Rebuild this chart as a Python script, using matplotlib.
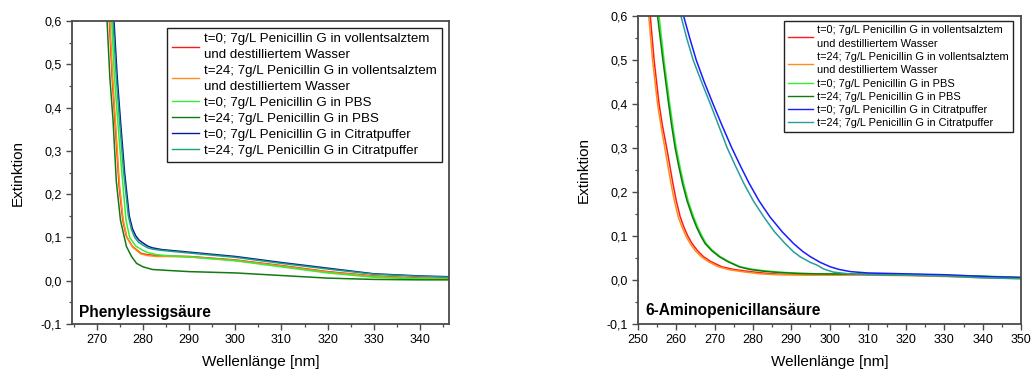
import matplotlib
matplotlib.use("Agg")
import matplotlib.pyplot as plt
from matplotlib.ticker import MultipleLocator, FuncFormatter

plt.rcParams['font.family'] = ['Liberation Sans', 'DejaVu Sans']

labels = [
    "t=0; 7g/L Penicillin G in vollentsalztem\nund destilliertem Wasser",
    "t=24; 7g/L Penicillin G in vollentsalztem\nund destilliertem Wasser",
    "t=0; 7g/L Penicillin G in PBS",
    "t=24; 7g/L Penicillin G in PBS",
    "t=0; 7g/L Penicillin G in Citratpuffer",
    "t=24; 7g/L Penicillin G in Citratpuffer",
]

# ---- Phenylessigsäure (left panel) ----
pa_wl_t0_water = [272.3, 272.7, 273.3, 273.9, 274.8, 275.6, 276.4, 277.7, 279.6, 281, 283, 285, 290, 300, 310, 320, 330, 340, 347]
pa_ex_t0_water = [0.7, 0.6, 0.47, 0.37, 0.22, 0.14, 0.102, 0.079, 0.063, 0.06, 0.058, 0.057, 0.056, 0.048, 0.035, 0.021, 0.011, 0.006, 0.005]
pa_wl_t24_water = [272.4, 272.8, 273.4, 274.0, 274.9, 275.7, 276.5, 277.8, 279.5, 281, 283, 285, 290, 300, 310, 320, 330, 340, 347]
pa_ex_t24_water = [0.7, 0.6, 0.47, 0.37, 0.22, 0.14, 0.1, 0.077, 0.062, 0.058, 0.056, 0.056, 0.055, 0.047, 0.034, 0.02, 0.01, 0.005, 0.004]
pa_wl_t0_pbs = [272.8, 273.2, 273.8, 274.5, 275.4, 276.3, 277.1, 278.4, 280, 281, 283, 285, 290, 300, 310, 320, 330, 340, 347]
pa_ex_t0_pbs = [0.7, 0.6, 0.47, 0.37, 0.25, 0.14, 0.1, 0.08, 0.07, 0.065, 0.06, 0.058, 0.055, 0.046, 0.032, 0.018, 0.008, 0.004, 0.003]
pa_wl_t24_pbs = [271.8, 272.2, 272.8, 273.5, 274.2, 275.1, 276.4, 277.5, 278.6, 280, 282, 285, 290, 300, 310, 320, 330, 340, 347]
pa_ex_t24_pbs = [0.7, 0.6, 0.47, 0.37, 0.23, 0.14, 0.079, 0.056, 0.04, 0.032, 0.026, 0.024, 0.021, 0.018, 0.012, 0.006, 0.003, 0.002, 0.002]
pa_wl_t0_cit = [273.3, 273.7, 274.4, 275.1, 276.0, 277.0, 277.7, 278.4, 279.1, 280, 281, 282, 284, 290, 300, 310, 320, 330, 340, 347]
pa_ex_t0_cit = [0.7, 0.6, 0.47, 0.37, 0.25, 0.15, 0.12, 0.104, 0.094, 0.087, 0.08, 0.076, 0.072, 0.066, 0.056, 0.042, 0.029, 0.016, 0.011, 0.009]
pa_wl_t24_cit = [273.1, 273.5, 274.2, 274.9, 275.8, 276.8, 277.5, 278.2, 279, 280, 281, 282, 284, 290, 300, 310, 320, 330, 340, 347]
pa_ex_t24_cit = [0.7, 0.6, 0.47, 0.37, 0.25, 0.15, 0.118, 0.1, 0.089, 0.082, 0.076, 0.073, 0.07, 0.064, 0.054, 0.04, 0.027, 0.015, 0.01, 0.008]

# ---- 6-Aminopenicillansäure (right panel) ----
apa_wl_t0_water = [252.7, 253.2, 254.2, 255.5, 256.4, 257.5, 258.3, 259.1, 260.0, 261.0, 262.0, 263.0, 264.1, 265.5, 267.1, 269.0, 271.9, 275.0, 279.3, 283.5, 287.1, 295, 310, 320, 330, 340, 350]
apa_ex_t0_water = [0.65, 0.6, 0.5, 0.4, 0.35, 0.3, 0.26, 0.22, 0.18, 0.144, 0.12, 0.1, 0.083, 0.067, 0.053, 0.042, 0.03, 0.024, 0.019, 0.015, 0.013, 0.012, 0.012, 0.011, 0.009, 0.006, 0.004]
apa_wl_t24_water = [252.3, 252.8, 253.8, 255.1, 256.0, 257.0, 257.8, 258.6, 259.5, 260.5, 261.5, 262.5, 263.6, 264.9, 266.5, 268.3, 271.0, 274.0, 278.0, 282.0, 286.0, 295, 310, 320, 330, 340, 350]
apa_ex_t24_water = [0.65, 0.6, 0.5, 0.4, 0.35, 0.3, 0.26, 0.22, 0.18, 0.144, 0.12, 0.1, 0.083, 0.067, 0.053, 0.042, 0.03, 0.023, 0.018, 0.014, 0.012, 0.011, 0.011, 0.01, 0.008, 0.005, 0.003]
apa_wl_t0_pbs = [255.0, 255.5, 256.8, 258.3, 259.1, 260.0, 260.9, 261.9, 263.1, 264.5, 265.6, 266.7, 267.8, 269.5, 271.5, 273.7, 276.7, 279.5, 283, 287, 292, 297, 310, 320, 330, 340, 350]
apa_ex_t0_pbs = [0.65, 0.6, 0.5, 0.4, 0.35, 0.3, 0.26, 0.22, 0.18, 0.144, 0.12, 0.1, 0.083, 0.067, 0.053, 0.042, 0.03, 0.025, 0.021, 0.018, 0.015, 0.014, 0.014, 0.013, 0.011, 0.009, 0.006]
apa_wl_t24_pbs = [254.7, 255.1, 256.5, 258.0, 258.8, 259.7, 260.6, 261.6, 262.8, 264.2, 265.3, 266.4, 267.5, 269.2, 271.2, 273.4, 276.4, 279.2, 282.7, 286.7, 291.7, 296.7, 310, 320, 330, 340, 350]
apa_ex_t24_pbs = [0.65, 0.6, 0.5, 0.4, 0.35, 0.3, 0.26, 0.22, 0.18, 0.144, 0.12, 0.1, 0.083, 0.067, 0.053, 0.042, 0.03, 0.024, 0.02, 0.017, 0.015, 0.014, 0.013, 0.012, 0.01, 0.008, 0.006]
apa_wl_t0_cit = [260.3, 261.9, 263.5, 265.2, 267.3, 269.6, 272.0, 274.5, 276.7, 279.0, 281.6, 284.4, 287.6, 290.6, 293.0, 295.0, 297.6, 300.2, 302.5, 305.5, 310, 320, 330, 340, 350]
apa_ex_t0_cit = [0.65, 0.6, 0.55, 0.5, 0.45, 0.4, 0.35, 0.3, 0.26, 0.22, 0.18, 0.144, 0.11, 0.083, 0.065, 0.053, 0.04, 0.03, 0.024, 0.019, 0.016, 0.014, 0.012, 0.008, 0.005]
apa_wl_t24_cit = [259.6, 261.2, 262.7, 264.4, 266.6, 268.9, 271.1, 273.3, 275.4, 277.6, 280.1, 282.8, 285.6, 288.4, 290.5, 292.3, 295.0, 296.7, 298.5, 301.0, 305, 310, 320, 330, 340, 350]
apa_ex_t24_cit = [0.65, 0.6, 0.55, 0.5, 0.45, 0.4, 0.35, 0.3, 0.26, 0.22, 0.18, 0.144, 0.11, 0.083, 0.065, 0.053, 0.04, 0.034, 0.025, 0.018, 0.014, 0.012, 0.011, 0.009, 0.005, 0.003]

left_colors = ['#ff1a1a', '#ff8c1a', '#33ee33', '#117a11', '#0a1a99', '#1aa37a']
right_colors = ['#ff1a1a', '#ff8c1a', '#33ee33', '#117a11', '#1a1aff', '#2a9d9d']

left_series = [
    (pa_wl_t0_water, pa_ex_t0_water), (pa_wl_t24_water, pa_ex_t24_water),
    (pa_wl_t0_pbs, pa_ex_t0_pbs), (pa_wl_t24_pbs, pa_ex_t24_pbs),
    (pa_wl_t0_cit, pa_ex_t0_cit), (pa_wl_t24_cit, pa_ex_t24_cit),
]
right_series = [
    (apa_wl_t0_water, apa_ex_t0_water), (apa_wl_t24_water, apa_ex_t24_water),
    (apa_wl_t0_pbs, apa_ex_t0_pbs), (apa_wl_t24_pbs, apa_ex_t24_pbs),
    (apa_wl_t0_cit, apa_ex_t0_cit), (apa_wl_t24_cit, apa_ex_t24_cit),
]

W, H = 1033, 373
fig = plt.figure(figsize=(W / 100, H / 100), dpi=100)

spine_col = '#4a4a4a'
comma = FuncFormatter(lambda v, p: ('%.1f' % v).replace('.', ',').replace('-0,0', '0,0'))


def make_axes(px_left, px_right, px_top, px_bottom):
    return fig.add_axes([px_left / W, 1 - px_bottom / H,
                         (px_right - px_left) / W, (px_bottom - px_top) / H])


def style(ax, xlim, title, title_y_px, leg_fs, leg_anchor_px, axw, axh, colors, series, hlen):
    for (wl, ex), c, lab in zip(series, colors, labels):
        ax.plot(wl, ex, color=c, lw=1.1, label=lab)
    ax.set_xlim(*xlim)
    ax.set_ylim(-0.1, 0.6)
    ax.xaxis.set_major_locator(MultipleLocator(10))
    ax.xaxis.set_minor_locator(MultipleLocator(5))
    ax.yaxis.set_major_locator(MultipleLocator(0.1))
    ax.yaxis.set_minor_locator(MultipleLocator(0.05))
    ax.yaxis.set_major_formatter(comma)
    ax.tick_params(which='major', direction='out', length=4, width=1.0,
                   color=spine_col, labelsize=9, pad=3.5)
    ax.tick_params(which='minor', direction='out', length=2.5, width=0.9,
                   color=spine_col)
    for s in ax.spines.values():
        s.set_color(spine_col)
        s.set_linewidth(1.3)
    ax.set_xlabel('Wellenlänge [nm]', fontsize=11)
    ax.set_ylabel('Extinktion', fontsize=11)
    ax.xaxis.set_label_coords(0.5, -31 / axh)
    ax.yaxis.set_label_coords(-47 / axw, 0.5)
    ax.text(7 / axw, title_y_px / axh, title, transform=ax.transAxes, fontsize=11.2,
            fontweight='bold', ha='left', va='baseline')
    gx, gy = leg_anchor_px
    leg = ax.legend(loc='upper right', bbox_to_anchor=(1 - gx / axw, 1 - gy / axh),
                    borderaxespad=0, fontsize=leg_fs, frameon=True, fancybox=False,
                    edgecolor='#222222', framealpha=1, handlelength=hlen,
                    handletextpad=0.4, labelspacing=0.28, borderpad=0.38)
    leg.get_frame().set_linewidth(1.0)
    for t in leg.get_texts():
        t.set_linespacing(1.45)
    for line in leg.get_lines():
        line.set_linewidth(1.0)


axL = make_axes(72, 449, 21, 324)
style(axL, (264.6, 346.3), 'Phenylessigsäure', 7.3, 9.6, (6.7, 6.7), 377, 303,
      left_colors, left_series, 2.0)

axR = make_axes(638, 1021, 16, 324)
style(axR, (250, 350), '6-Aminopenicillansäure', 9.0, 7.9, (7.7, 5.0), 383, 308,
      right_colors, right_series, 2.3)

fig.savefig('out.png', dpi=100)
